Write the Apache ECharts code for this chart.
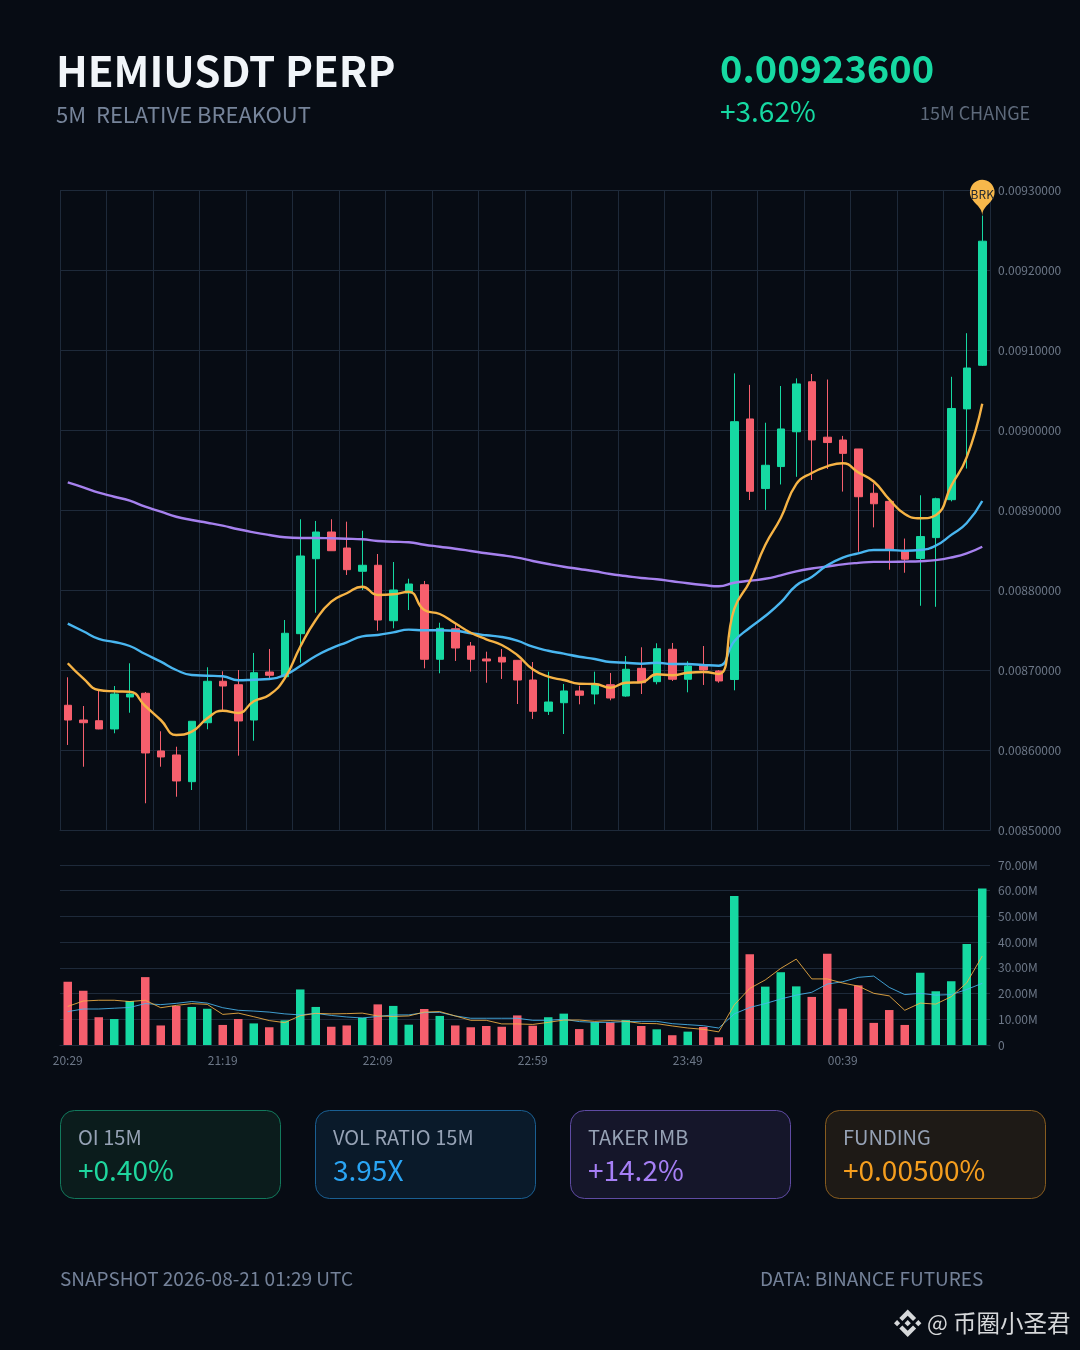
<!DOCTYPE html>
<html><head><meta charset="utf-8">
<style>html,body{margin:0;padding:0;background:#070c14}#c{width:1080px;height:1350px}</style>
<script src="https://cdn.jsdelivr.net/npm/echarts@6/dist/echarts.min.js"></script>
</head><body><div id="c"></div>
<script>
// Prices are in units of 1e-6 USDT
const times=["20:29","20:34","20:39","20:44","20:49","20:54","20:59","21:04","21:09","21:14","21:19","21:24","21:29","21:34","21:39","21:44","21:49","21:54","21:59","22:04","22:09","22:14","22:19","22:24","22:29","22:34","22:39","22:44","22:49","22:54","22:59","23:04","23:09","23:14","23:19","23:24","23:29","23:34","23:39","23:44","23:49","23:54","23:59","00:04","00:09","00:14","00:19","00:24","00:29","00:34","00:39","00:44","00:49","00:54","00:59","01:04","01:09","01:14","01:19","01:24"];
const opens=[8655.9,8637.5,8636.6,8626.3,8666.3,8670.9,8598.8,8593.8,8560.4,8634.1,8685.9,8681.6,8637.5,8697.5,8691.6,8745.4,8839.1,8872.5,8852.5,8823.4,8830.9,8761.6,8796.3,8806.6,8713.4,8751.6,8730,8713.8,8715.9,8712.1,8687.5,8648.4,8659.1,8673.8,8670,8681.6,8667.5,8702.1,8685.4,8725.9,8688.4,8705.4,8698.8,8688.1,9013.8,8926.8,8954.3,8997.8,9060.3,8991,8987.5,8976.3,8920.9,8910.8,8848.8,8839.4,8865.5,8912.9,9026.4,9080.9];
const closes=[8637.5,8634.1,8626.3,8670,8670,8596.3,8591.3,8561.3,8635.9,8685.9,8680,8636.3,8696.6,8693.4,8745.9,8842.5,8872.5,8849.1,8825.4,8830.9,8762.5,8800,8807.5,8713.4,8752.1,8727.5,8713.4,8711.3,8710,8687.5,8648.4,8660,8673.8,8668.4,8681.6,8665,8700.9,8684.1,8726.6,8688.4,8705,8700,8686.3,9010.4,8923.4,8955.9,9001.3,9057.6,8987.6,8984.3,8970.8,8916.6,8907.8,8850.8,8838.5,8866.8,8914.1,9026.9,9077.5,9236];
const lows=[8606.3,8579.1,8625.9,8620.9,8646.6,8533.4,8579.1,8541.6,8550,8625.9,8650,8592.9,8611.6,8689.6,8691.6,8709.1,8771.6,8849.1,8818.8,8800,8749.1,8752.1,8775,8702.1,8695.9,8711.3,8697.9,8684.1,8688.8,8657.5,8638.8,8643.8,8620,8657.1,8657.1,8662.1,8666.6,8670,8682.1,8686.3,8672.1,8681.3,8684.1,8674.6,8912.5,8900.1,8931.9,8941.5,8937.5,8951.3,8923,8847.8,8878.3,8825.4,8821.6,8780.3,8779,8910.8,8951.8,9080];
const highs=[8690.9,8655,8675,8680,8708.4,8672.5,8623.4,8604.1,8635.9,8703.4,8698.4,8700,8721.3,8726.3,8762.5,8888.4,8886.3,8888.4,8885.4,8874.1,8845,8835,8814.1,8811.3,8759.1,8758.8,8735,8722.9,8726.3,8712.1,8710,8697.9,8682.5,8680.4,8697.9,8696.3,8717.5,8728.4,8733.4,8733.8,8710.9,8730,8700,9070.8,9056.4,9009.1,9055,9064.5,9070,9063.1,8992.6,8976.3,8933.1,8910.8,8864.3,8918.4,8915.4,9066.5,9121,9268];
const emaFast=[8708.4,8689.6,8675,8673.4,8672.9,8655,8637.5,8618.8,8622.9,8639.6,8649.1,8646.3,8660.9,8668.8,8689.6,8729.1,8762.5,8785.4,8795.9,8804.1,8793.8,8794.6,8797.9,8775,8770,8758.4,8746.6,8738.4,8731.3,8718.8,8700.9,8691.6,8687.5,8682.9,8682.5,8677.9,8684.1,8684.6,8694.6,8693.4,8696.6,8697.5,8695,8776.3,8810.6,8856.3,8890,8932.3,8946.3,8954.6,8958.5,8947,8935.6,8913.3,8895.1,8889.6,8893.4,8930.1,8966,9032.8];
const emaMid=[8757.9,8748.4,8738.8,8735,8730,8720,8710.4,8700,8693.8,8692.9,8692.1,8687.1,8687.9,8688.8,8693.8,8705,8717.5,8727.1,8734.6,8742.1,8743.8,8747,8750.5,8749.6,8749.6,8749.1,8745.9,8743.4,8741.3,8736.6,8729.1,8724.1,8720.4,8716.6,8713.8,8710,8709.1,8707.9,8709.1,8707.5,8707.5,8706.3,8705.4,8735.9,8752.8,8767.5,8784.5,8805.6,8816.3,8830.9,8840.6,8845.8,8850,8850,8849.1,8850,8855.4,8868.9,8883.8,8911.3];
const emaSlow=[8934.6,8928.4,8921.6,8916.6,8911.6,8904.1,8897.9,8891.6,8887.5,8884.1,8880.4,8875.9,8872.1,8868.8,8865.9,8865,8865,8864.6,8864.1,8863.4,8861.3,8860.4,8859.6,8856.6,8854.1,8851.6,8848.8,8845.9,8843.4,8840.4,8836.3,8832.5,8829.1,8826.3,8823.4,8820,8817.5,8815,8813.4,8810.9,8808.4,8806.3,8804.6,8809,8811.5,8814,8818.3,8823.3,8826.8,8829.3,8832.1,8833.9,8835.1,8835.1,8835.5,8836,8837.3,8840.6,8845.8,8854.1];
// Volumes in millions
const volumes=[24.6,21.1,10.8,10.1,17.1,26.4,7.6,15.2,14.8,14.1,7.8,10.1,8.4,6.9,9.6,21.6,14.8,7.1,7.6,10.6,15.8,15.2,7.9,14,11.3,7.6,6.9,7.4,7.1,11.5,7.5,10.8,12.2,6.2,8.9,8.8,9.7,7.4,6.1,3.8,5.2,7,3,57.9,35.3,22.7,28.3,22.8,18.7,35.5,14.1,23.2,8.6,13.6,7.8,28.1,20.9,24.8,39.3,60.9];
const volFast=[15,17.1,17.4,17.4,16.9,17.4,14.5,15.4,16.1,15.8,11.9,12.4,11,9.5,8.7,11.4,12.3,12.1,12.2,12.4,11.3,11.1,11.3,12.8,13,11.3,9.6,9.6,8.2,8.2,8,8.8,9.7,9.7,9.2,9.5,9.2,8.4,8.3,7.4,6.6,6.1,5.1,15.6,22,25.3,29.8,33.4,25.7,25.7,24.1,22.9,20.1,19.1,13.5,16.3,15.9,18.8,24.2,34.6];
const volSlow=[13,14,14,14.3,14.6,16.1,15.7,16.2,16.9,16.3,14.5,13.5,13.2,12.8,12.1,11.7,12.3,11.5,10.9,10.5,11.1,11.7,11.7,12.6,12.7,11.3,10.4,10.4,10.4,10.4,9.6,9.6,10,9.1,8.8,8.8,9.1,9.2,9.2,8.3,7.9,7.5,6.6,12.1,14.6,16.1,17.9,19.4,20.5,23.7,24.6,26.3,26.8,22.4,19.6,20.1,19.4,19.6,21.6,24];
const cards=[
 {label:"OI 15M",value:"+0.40%",fg:"#1fd69e",bg:"#0b1c1c",bd:"#12795c"},
 {label:"VOL RATIO 15M",value:"3.95X",fg:"#2aa5f5",bg:"#0a1a2a",bd:"#1a5f92"},
 {label:"TAKER IMB",value:"+14.2%",fg:"#a67ff5",bg:"#15162a",bd:"#5f4ba3"},
 {label:"FUNDING",value:"+0.00500%",fg:"#f59e1e",bg:"#1e1a16",bd:"#875c1f"}
];
const logoShapes=[
 [[38.73,53.2],[63.32,28.62],[87.92,53.22],[102.22,38.91],[63.32,0],[24.43,38.9]],
 [[0,63.31],[14.3,49],[28.61,63.31],[14.3,77.61]],
 [[38.73,73.41],[63.32,98],[87.92,73.4],[102.23,87.69],[63.33,126.6],[24.42,87.72]],
 [[98,63.31],[112.3,49],[126.61,63.3],[112.3,77.62]],
 [[77.83,63.3],[63.32,48.78],[48.81,63.28],[63.32,77.78]]
];

const GREEN="#16d9a2",RED="#f65f6d",GRID="#1e2a3a",AX="#6d7888";
const FF='"Noto Sans CJK SC","Noto Sans",sans-serif';
const T=(x,y,text,size,fill,weight,align)=>({type:'text',x,y,silent:true,style:{text,fontSize:size,fontFamily:FF,fontWeight:weight||400,fill,textAlign:align||'left',textVerticalAlign:'middle'}});
const gfx=[
 T(56,71,"HEMIUSDT PERP",42,"#f1f5f9",700),
 T(56,115,"5M  RELATIVE BREAKOUT",22,"#76849a"),
 T(720,69,"0.00923600",38,GREEN,700),
 T(720,111,"+3.62%",28,GREEN),
 T(920,113.5,"15M CHANGE",18,"#5e6a7b"),
 T(60,1279,"SNAPSHOT 2026-08-21 01:29 UTC",19,"#748299"),
 T(760,1279,"DATA: BINANCE FUTURES",19,"#748299"),
 T(927,1323,"@",22,"#d6d8da"),
 T(953,1323,"币圈小圣君",23.5,"#d6d8da")
];
logoShapes.forEach(p=>gfx.push({type:'polygon',silent:true,x:894,y:1309.5,scaleX:.2164,scaleY:.2164,shape:{points:p},style:{fill:"#d6d8da"}}));
cards.forEach((c,i)=>{
 const x=60+255*i;
 gfx.push({type:'rect',silent:true,shape:{x:x+.5,y:1110.5,width:220,height:88,r:14},style:{fill:c.bg,stroke:c.bd,lineWidth:1}});
 gfx.push(T(x+18,1137,c.label,20,"#96a2b5"));
 gfx.push(T(x+18,1170.5,c.value,28,c.fg));
});

const line=(data,color,w,opts)=>Object.assign({type:'line',data,showSymbol:false,symbol:'none',silent:true,lineStyle:{color,width:w},itemStyle:{color},z:5},opts);
const option={
 animation:false,backgroundColor:"#070c14",textStyle:{fontFamily:FF},
 grid:[{left:60,right:90,top:190,height:640},{left:60,right:90,top:865,height:180}],
 xAxis:[
  {type:'category',gridIndex:0,data:times,boundaryGap:true,
   axisLine:{show:true,lineStyle:{color:GRID}},axisTick:{show:false},axisLabel:{show:false},
   splitLine:{show:true,interval:2,lineStyle:{color:GRID,width:1}}},
  {type:'category',gridIndex:1,data:times,boundaryGap:true,
   axisLine:{show:true,lineStyle:{color:GRID}},axisTick:{show:false},
   axisLabel:{interval:9,color:AX,fontSize:12,margin:9,fontFamily:FF},splitLine:{show:false}}
 ],
 yAxis:[
  {type:'value',gridIndex:0,position:'right',min:8500,max:9300,interval:100,
   axisLine:{show:true,lineStyle:{color:GRID}},axisTick:{show:false},
   axisLabel:{color:AX,fontSize:12,margin:8,fontFamily:FF,formatter:v=>(v/1e6).toFixed(8)},
   splitLine:{show:true,lineStyle:{color:GRID,width:1}}},
  {type:'value',gridIndex:1,position:'right',min:0,max:70,interval:10,
   axisLine:{show:false},axisTick:{show:false},
   axisLabel:{color:AX,fontSize:12,margin:8,padding:[2,0,0,0],fontFamily:FF,formatter:v=>v===0?"0":v.toFixed(2)+"M"},
   splitLine:{show:true,lineStyle:{color:GRID,width:1}}}
 ],
 series:[
  {type:'candlestick',xAxisIndex:0,yAxisIndex:0,barWidth:8,silent:true,
   data:times.map((_,i)=>[opens[i],closes[i],lows[i],highs[i]]),
   itemStyle:{color:GREEN,color0:RED,borderColor:GREEN,borderColor0:RED,borderWidth:1},
   markPoint:{silent:true,symbol:'pin',symbolSize:41,
    label:{show:true,formatter:'BRK',color:"#22282f",fontSize:12,fontFamily:FF},
    itemStyle:{color:"#f7b84b"},
    data:[{name:'BRK',coord:[times.length-1,highs[highs.length-1]]}]}},
  line(emaSlow,"#a681ee",2.4,{xAxisIndex:0,yAxisIndex:0,smooth:.5}),
  line(emaMid,"#49b6f0",2.4,{xAxisIndex:0,yAxisIndex:0,smooth:.5}),
  line(emaFast,"#f6b345",2.4,{xAxisIndex:0,yAxisIndex:0,smooth:.5}),
  {type:'bar',xAxisIndex:1,yAxisIndex:1,barWidth:8.5,silent:true,
   data:volumes.map((v,i)=>({value:v,itemStyle:{color:closes[i]>opens[i]?GREEN:RED}}))},
  line(volSlow,"#49b6f0",1,{xAxisIndex:1,yAxisIndex:1,lineStyle:{color:"#49b6f0",width:1,opacity:.85}}),
  line(volFast,"#f6b345",1,{xAxisIndex:1,yAxisIndex:1,lineStyle:{color:"#f6b345",width:1,opacity:.85}})
 ],
 graphic:gfx
};
echarts.init(document.getElementById('c')).setOption(option);
</script></body></html>
